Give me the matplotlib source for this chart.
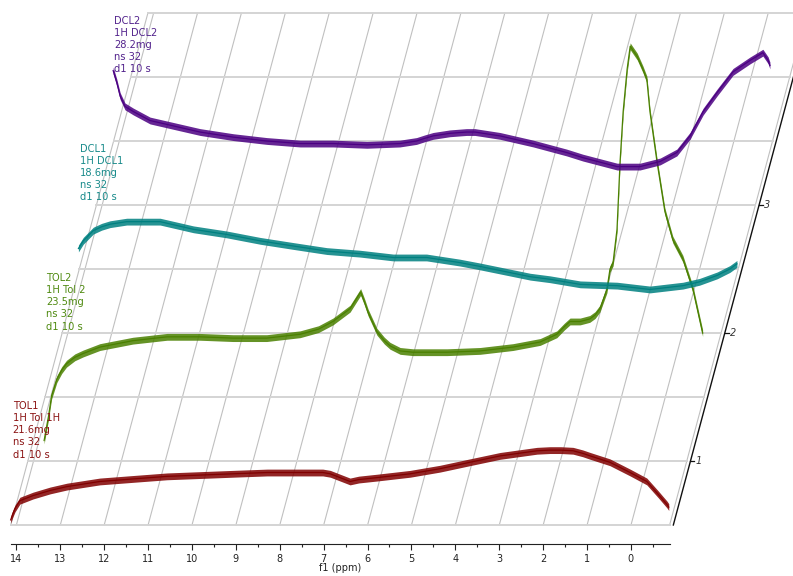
import numpy as np
import matplotlib
matplotlib.use("Agg")
import matplotlib.pyplot as plt
from matplotlib.transforms import Affine2D
from matplotlib.ticker import MultipleLocator

# --- spectra: ppm and intensity above each baseline (z-axis units) ---
tol1_ppm = [14.13, 14.08, 14.03, 13.92, 13.62, 13.23, 12.85, 12.10, 11.34, 10.57, 9.82, 9.07, 8.29,
            7.70, 7.02, 6.85, 6.70, 6.55, 6.40, 6.20, 5.79, 5.03, 4.35, 3.67, 2.98, 2.14, 1.85,
            1.60, 1.32, 1.10, 0.93, 0.48, 0.02, -0.36, -0.62, -0.82, -0.86]
tol1_int = [0.04, 0.09, 0.13, 0.19, 0.23, 0.27, 0.30, 0.34, 0.36, 0.38, 0.39, 0.40, 0.41,
            0.41, 0.41, 0.40, 0.38, 0.36, 0.34, 0.355, 0.37, 0.40, 0.44, 0.49, 0.54, 0.58, 0.585,
            0.585, 0.58, 0.56, 0.54, 0.49, 0.41, 0.34, 0.24, 0.16, 0.14]

tol2_ppm = [14.15, 14.05, 13.98, 13.86, 13.75, 13.64, 13.45, 13.26, 12.88, 12.13, 11.35, 10.60,
            9.85, 9.08, 8.32, 7.90, 7.57, 7.18, 6.94, 6.85, 6.77, 6.57, 6.40, 6.27, 6.04, 5.75,
            4.97, 4.22, 3.47, 2.85, 2.47, 2.30, 2.17, 1.94, 1.72, 1.60, 1.49, 1.33, 1.26, 1.19,
            1.10, 1.03, 0.96, 0.87, 0.80, 0.64, 0.51, 0.42, 0.35, 0.19, 0.01, -0.17, -0.40,
            -0.63, -0.85]
tol2_int = [-0.34, -0.15, 0.01, 0.14, 0.21, 0.26, 0.31, 0.34, 0.39, 0.44, 0.47, 0.47,
            0.46, 0.46, 0.49, 0.53, 0.59, 0.69, 0.82, 0.74, 0.66, 0.51, 0.44, 0.40, 0.36, 0.35,
            0.35, 0.36, 0.39, 0.43, 0.49, 0.55, 0.59, 0.59, 0.61, 0.64, 0.69, 0.84, 1.00, 1.05,
            1.31, 1.84, 2.23, 2.56, 2.74, 2.66, 2.56, 2.48, 2.23, 1.84, 1.45, 1.23, 1.08,
            0.84, 0.50]

dcl1_ppm = [14.15, 14.04, 13.81, 13.62, 13.43, 13.05, 12.67, 12.29, 11.91, 11.53, 11.15, 10.77,
            10.01, 9.26, 8.49, 7.74, 6.98, 6.22, 5.46, 5.00, 3.86, 3.41, 2.72, 1.88, 1.13, 0.38,
            0.00, -0.40, -0.69, -0.85]
dcl1_int = [0.16, 0.22, 0.30, 0.33, 0.35, 0.37, 0.37, 0.37, 0.34, 0.31, 0.29, 0.27,
            0.22, 0.18, 0.14, 0.12, 0.09, 0.09, 0.05, 0.02, -0.06, -0.08, -0.12, -0.13, -0.16,
            -0.13, -0.10, -0.05, 0.00, 0.04]

dcl2_ppm = [14.14, 14.06, 13.98, 13.87, 13.68, 13.30, 12.92, 12.16, 11.40, 10.64, 9.88, 9.13,
            8.36, 7.61, 7.23, 7.05, 6.85, 6.47, 6.09, 5.90, 5.71, 5.33, 4.57, 3.81, 3.44, 2.66,
            2.14, 1.68, 1.30, 1.00, 0.70, 0.38, 0.02, -0.37, -0.66, -0.78, -0.82]
dcl2_int = [0.55, 0.46, 0.35, 0.27, 0.23, 0.16, 0.13, 0.07, 0.03, 0.00, -0.02, -0.02,
            -0.03, -0.02, 0.00, 0.02, 0.04, 0.06, 0.07, 0.07, 0.06, 0.04, -0.02, -0.09, -0.13,
            -0.20, -0.20, -0.16, -0.09, 0.04, 0.23, 0.38, 0.54, 0.63, 0.69, 0.63, 0.59]

spec_labels = ["TOL1\n1H Tol 1H\n21.6mg\nns 32\nd1 10 s",
               "TOL2\n1H Tol 2\n23.5mg\nns 32\nd1 10 s",
               "DCL1\n1H DCL1\n18.6mg\nns 32\nd1 10 s",
               "DCL2\n1H DCL2\n28.2mg\nns 32\nd1 10 s"]
line_colors = ["#800000", "#4a8000", "#008080", "#4b0082"]
text_colors = ["#8b1414", "#4f8a10", "#178a8a", "#52228c"]

ppm_ticks = list(range(14, -1, -1))
z_ticks = [1, 2, 3]
ppm_left, ppm_right = 14.13, -0.88
z_bottom, z_top = 0.5, 4.5

# --- geometry of the oblique stack (pixels) ---
W, H = 793, 576
PX_PPM = 43.9       # pixels per ppm
X_PPM0 = 631.0      # x of 0 ppm on the front row
Y_Z0 = 589.0        # y of z = 0
PX_Z = 128.0        # pixels per z unit
SLANT = 0.268       # horizontal shift per pixel of depth

fig = plt.figure(figsize=(W / 100, H / 100), dpi=100)
ax = fig.add_axes([0, 0, 1, 1])
ax.set_xlim(0, W)
ax.set_ylim(H, 0)
ax.axis("off")

shift = SLANT * PX_Z
# (ppm, z) -> pixels, slanted frame
T_grid = Affine2D(np.array([[-PX_PPM, shift, X_PPM0 - shift * z_bottom],
                            [0, -PX_Z, Y_Z0],
                            [0, 0, 1]])) + ax.transData


def spec_transform(k):
    # baseline k rows back, intensity drawn straight up
    zb = z_bottom + k
    m = np.array([[-PX_PPM, 0, X_PPM0 + shift * k],
                  [0, -PX_Z, Y_Z0 - PX_Z * zb],
                  [0, 0, 1]])
    return Affine2D(m) + ax.transData


# grid
for p in [ppm_left] + ppm_ticks + [ppm_right]:
    ax.plot([p, p], [z_bottom, z_top], transform=T_grid, color="#c0c0c0", lw=0.8, zorder=1)
for z in np.arange(z_bottom, z_top + 0.01, 0.5):
    ax.plot([ppm_left, ppm_right], [z, z], transform=T_grid, color="#d4d4d4", lw=1.4, zorder=1)

# slanted z axis
p_ax = ppm_right - 3.7 / PX_PPM
ax.plot([p_ax, p_ax], [z_bottom, z_top + 0.3], transform=T_grid, color="#111111", lw=1.0, zorder=2)
for z in z_ticks:
    ax.plot([p_ax, p_ax - 4 / PX_PPM], [z, z], transform=T_grid, color="#111111", lw=0.9, zorder=2)
    ax.text(p_ax - 8.5 / PX_PPM, z, str(z), transform=T_grid, fontsize=7, style="italic",
            color="#333333", ha="center", va="center", zorder=2)

# spectra: noisy band + centre line
series = [(dcl2_ppm, dcl2_int, 3), (dcl1_ppm, dcl1_int, 2),
          (tol1_ppm, tol1_int, 0), (tol2_ppm, tol2_int, 1)]
band = 3.4 / PX_Z
for ppm, inten, k in series:
    T = spec_transform(k)
    p = np.array(ppm)
    y = np.array(inten)
    ax.fill_between(p, y - band, y + band, transform=T, color=line_colors[k],
                    lw=0, alpha=0.85, zorder=3 + k)
    ax.plot(p, y, transform=T, color=line_colors[k], lw=0.9, zorder=3 + k)

# spectrum annotations (left x, centre of first line)
label_pos = [(12.7, 405), (46, 277), (80, 148), (114, 20)]
for k, txt in enumerate(spec_labels):
    x0, y0 = label_pos[k]
    for i, line in enumerate(txt.split("\n")):
        ax.text(x0, y0 + 3.7 + i * 12.2, line, fontsize=7.1, color=text_colors[k],
                ha="left", va="baseline", zorder=10)

# front ppm axis
ax_x = fig.add_axes([10.7 / W, (H - 544.3) / H, (669.5 - 10.7) / W, 0.0001])
ax_x.set_xlim(ppm_left, ppm_right)
ax_x.set_xticks(ppm_ticks)
ax_x.xaxis.set_minor_locator(MultipleLocator(0.5))
ax_x.set_yticks([])
for s in ["top", "left", "right"]:
    ax_x.spines[s].set_visible(False)
ax_x.spines["bottom"].set_color("#222222")
ax_x.spines["bottom"].set_linewidth(0.8)
ax_x.patch.set_visible(False)
ax_x.tick_params(axis="x", which="major", length=4, width=0.8, color="#222222",
                 labelsize=7, labelcolor="#222222", pad=3.2)
ax_x.tick_params(axis="x", which="minor", length=2.5, width=0.8, color="#222222")
ax_x.set_xlabel("f1 (ppm)", fontsize=7, color="#222222", labelpad=-1)

fig.savefig("out.png", dpi=100)
